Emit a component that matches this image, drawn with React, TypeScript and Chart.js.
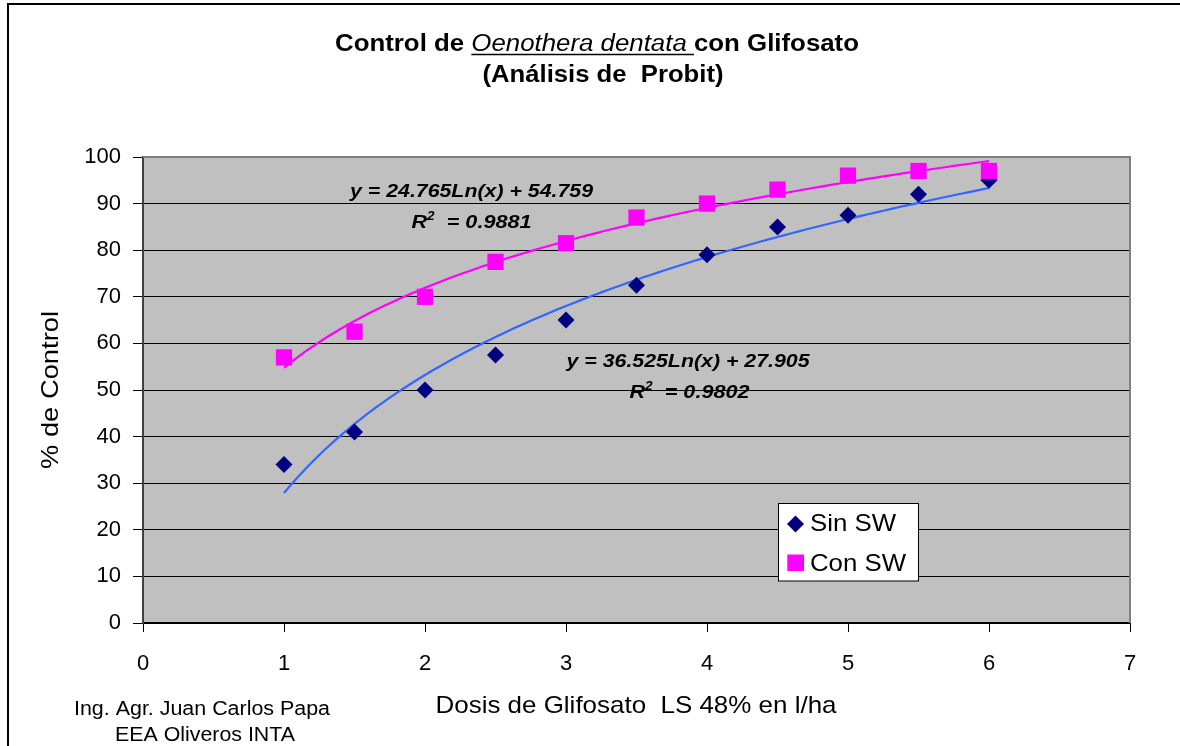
import React, { useEffect, useRef } from "react";
import { Chart, registerables } from "chart.js";

Chart.register(...registerables);

// ---- data ----
const doses = [1, 1.5, 2, 2.5, 3, 3.5, 4, 4.5, 5, 5.5, 6];
const sinSW = [34, 41, 50, 57.5, 65, 72.5, 79, 85, 87.5, 92, 95];
const conSW = [57, 62.5, 70, 77.5, 81.5, 87, 90, 93, 96, 97, 97];
// logarithmic trendlines shown on the chart: y = a*Ln(x) + b
const sinFit = [36.525, 27.905];
const conFit = [24.765, 54.759];
const fitRange = [1, 6];
const xTicks = [0, 1, 2, 3, 4, 5, 6, 7];
const yTicks = [0, 10, 20, 30, 40, 50, 60, 70, 80, 90, 100];
const seriesNames = ["Sin SW", "Con SW"];
const sinEq = ["y = 36.525Ln(x) + 27.905", "0.9802"];
const conEq = ["y = 24.765Ln(x) + 54.759", "0.9881"];

const FONT = '"Liberation Sans", Arial, Helvetica, sans-serif';

function curve(coef: number[]) {
  const pts: { x: number; y: number }[] = [];
  const n = 100;
  for (let i = 0; i <= n; i++) {
    const x = fitRange[0] + ((fitRange[1] - fitRange[0]) * i) / n;
    pts.push({ x, y: coef[0] * Math.log(x) + coef[1] });
  }
  return pts;
}

type Part = { t: string; f: string; u?: boolean; dy?: number };

function drawParts(
  ctx: CanvasRenderingContext2D,
  parts: Part[],
  x: number,
  y: number,
  align: "left" | "center",
  targetW: number
) {
  ctx.save();
  ctx.textBaseline = "alphabetic";
  ctx.textAlign = "left";
  let raw = 0;
  const ws = parts.map((p) => {
    ctx.font = p.f;
    const w = ctx.measureText(p.t).width;
    raw += w;
    return w;
  });
  const sx = targetW / raw;
  let cx = align === "center" ? x - targetW / 2 : x;
  parts.forEach((p, i) => {
    ctx.save();
    ctx.font = p.f;
    ctx.fillStyle = "#000";
    ctx.translate(cx, y + (p.dy || 0));
    ctx.scale(sx, 1);
    ctx.fillText(p.t, 0, 0);
    ctx.restore();
    if (p.u) {
      ctx.strokeStyle = "#000";
      ctx.lineWidth = 1.5;
      ctx.beginPath();
      ctx.moveTo(cx, y + 3.5);
      ctx.lineTo(cx + ws[i] * sx, y + 3.5);
      ctx.stroke();
    }
    cx += ws[i] * sx;
  });
  ctx.restore();
}

const decor = {
  id: "decor",
  beforeDraw(chart: any) {
    const { ctx, chartArea: a, width, height } = chart;
    ctx.save();
    ctx.fillStyle = "#fff";
    ctx.fillRect(0, 0, width, height);
    ctx.fillStyle = "#C0C0C0";
    ctx.fillRect(a.left, a.top, a.right - a.left, a.bottom - a.top);
    ctx.strokeStyle = "#000";
    ctx.lineWidth = 2;
    ctx.beginPath();
    ctx.moveTo(8, height + 5);
    ctx.lineTo(8, 4);
    ctx.lineTo(width + 5, 4);
    ctx.stroke();
    ctx.restore();
  },
  afterDraw(chart: any) {
    const { ctx, chartArea: a } = chart;
    ctx.save();
    // plot area border (top/right)
    ctx.strokeStyle = "#808080";
    ctx.lineWidth = 2;
    ctx.beginPath();
    ctx.moveTo(a.left, a.top);
    ctx.lineTo(a.right, a.top);
    ctx.lineTo(a.right, a.bottom);
    ctx.stroke();

    const B = (s: number) => `bold ${s}px ${FONT}`;
    const I = (s: number) => `italic ${s}px ${FONT}`;
    const BI = (s: number) => `italic bold ${s}px ${FONT}`;
    const R = (s: number) => `${s}px ${FONT}`;

    // title
    drawParts(
      ctx,
      [
        { t: "Control de ", f: B(23) },
        { t: "Oenothera dentata ", f: I(23), u: true },
        { t: "con Glifosato", f: B(23) },
      ],
      597,
      51,
      "center",
      524
    );
    drawParts(ctx, [{ t: "(Análisis de  Probit)", f: B(23) }], 603, 81.5, "center", 241);

    // equations
    drawParts(ctx, [{ t: conEq[0], f: BI(19) }], 471.5, 196.5, "center", 243);
    drawParts(
      ctx,
      [
        { t: "R", f: BI(19) },
        { t: "2", f: BI(12), dy: -7.5 },
        { t: "  = " + conEq[1], f: BI(19) },
      ],
      411.5,
      227.5,
      "left",
      120
    );
    drawParts(ctx, [{ t: sinEq[0], f: BI(19) }], 688, 367, "center", 243);
    drawParts(
      ctx,
      [
        { t: "R", f: BI(19) },
        { t: "2", f: BI(12), dy: -7.5 },
        { t: "  = " + sinEq[1], f: BI(19) },
      ],
      629.5,
      397.5,
      "left",
      120
    );

    // legend
    ctx.fillStyle = "#fff";
    ctx.fillRect(778.5, 503.5, 140, 77.5);
    ctx.strokeStyle = "#000";
    ctx.lineWidth = 1;
    ctx.strokeRect(778.5, 503.5, 140, 77.5);
    ctx.fillStyle = "#000080";
    ctx.beginPath();
    ctx.moveTo(795.5, 515.5);
    ctx.lineTo(804, 524);
    ctx.lineTo(795.5, 532.5);
    ctx.lineTo(787, 524);
    ctx.closePath();
    ctx.fill();
    ctx.fillStyle = "#FF00FF";
    ctx.fillRect(787.3, 554.5, 16.7, 16.5);
    drawParts(ctx, [{ t: seriesNames[0], f: R(24) }], 810, 531, "left", 86);
    drawParts(ctx, [{ t: seriesNames[1], f: R(24) }], 810, 570.5, "left", 96);

    // axis titles
    drawParts(ctx, [{ t: "Dosis de Glifosato  LS 48% en l/ha", f: R(24) }], 636, 713, "center", 401);
    ctx.save();
    ctx.translate(58, 390);
    ctx.rotate(-Math.PI / 2);
    drawParts(ctx, [{ t: "% de Control", f: R(24) }], 0, 0, "center", 158);
    ctx.restore();

    // footer
    drawParts(ctx, [{ t: "Ing. Agr. Juan Carlos Papa", f: R(20) }], 202, 715, "center", 256);
    drawParts(ctx, [{ t: "EEA Oliveros INTA", f: R(20) }], 205, 741, "center", 180);
    ctx.restore();
  },
};

export default function App() {
  const ref = useRef<HTMLCanvasElement | null>(null);
  useEffect(() => {
    if (!ref.current) return;
    const chart = new Chart(ref.current, {
      type: "scatter",
      data: {
        datasets: [
          {
            label: seriesNames[1],
            data: doses.map((x, i) => ({ x, y: conSW[i] })),
            pointStyle: "rect",
            pointRadius: 11.5,
            pointHoverRadius: 11.5,
            backgroundColor: "#FF00FF",
            borderWidth: 0,
            order: 1,
          },
          {
            label: seriesNames[0],
            data: doses.map((x, i) => ({ x, y: sinSW[i] })),
            pointStyle: "rectRot",
            pointRadius: 8.5,
            pointHoverRadius: 8.5,
            backgroundColor: "#000080",
            borderWidth: 0,
            order: 2,
          },
          {
            label: "fit Con",
            data: curve(conFit),
            showLine: true,
            pointRadius: 0,
            borderColor: "#FF00FF",
            borderWidth: 2.2,
            order: 3,
          },
          {
            label: "fit Sin",
            data: curve(sinFit),
            showLine: true,
            pointRadius: 0,
            borderColor: "#3366FF",
            borderWidth: 2.2,
            order: 4,
          },
        ] as any,
      },
      options: {
        animation: false,
        responsive: false,
        events: [],
        layout: { padding: { top: 157, right: 50, left: 0, bottom: 0 } },
        plugins: { legend: { display: false }, tooltip: { enabled: false }, title: { display: false } },
        scales: {
          x: {
            type: "linear",
            min: xTicks[0],
            max: xTicks[xTicks.length - 1],
            afterBuildTicks: (s: any) => {
              s.ticks = xTicks.map((v) => ({ value: v }));
            },
            afterFit: (s: any) => {
              s.height = 123;
            },
            ticks: { color: "#000", font: { family: FONT, size: 22 }, padding: 19 },
            grid: { drawOnChartArea: false, drawTicks: true, tickLength: 9, tickColor: "#000", tickWidth: 1 },
            border: { color: "#000", width: 2 },
          },
          y: {
            type: "linear",
            min: yTicks[0],
            max: yTicks[yTicks.length - 1],
            afterBuildTicks: (s: any) => {
              s.ticks = yTicks.map((v) => ({ value: v }));
            },
            afterFit: (s: any) => {
              s.width = 143;
            },
            ticks: { color: "#000", font: { family: FONT, size: 22 }, padding: 12 },
            grid: { color: "#000", lineWidth: 1, tickLength: 10, tickColor: "#000" },
            border: { color: "#404040", width: 2 },
          },
        },
      } as any,
      plugins: [decor],
    });
    return () => chart.destroy();
  }, []);
  return (
    <div style={{ position: "fixed", left: 0, top: 0, width: 1180, height: 746, overflow: "hidden" }}>
      <canvas ref={ref} width={1180} height={746} style={{ display: "block" }} />
    </div>
  );
}
